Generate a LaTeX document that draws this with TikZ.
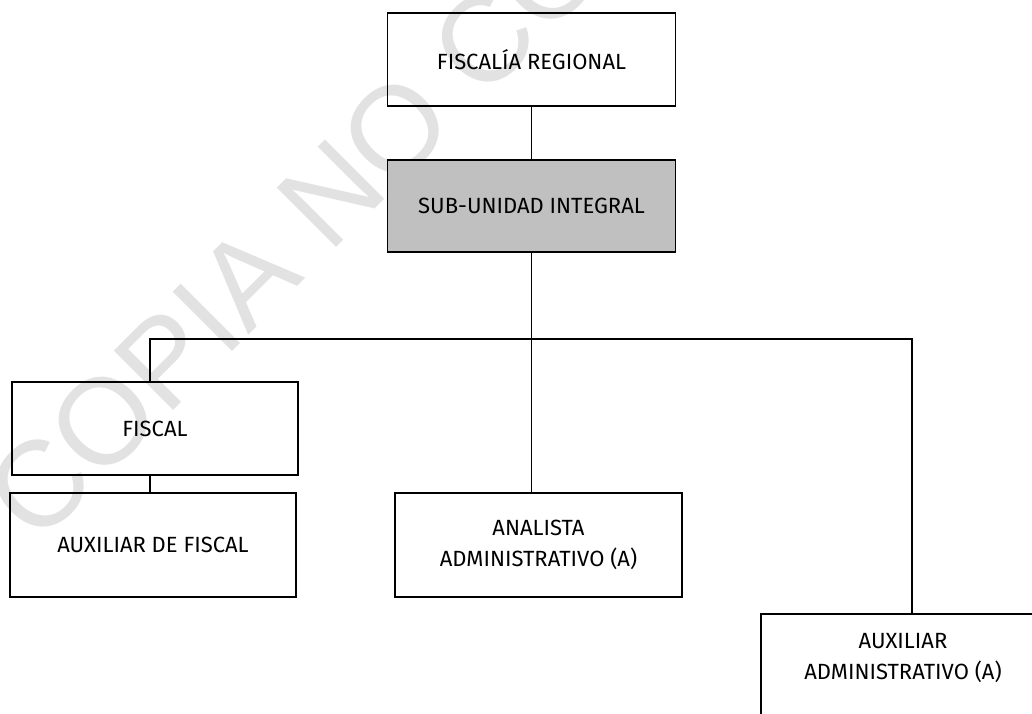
\documentclass[tikz,border=0pt]{standalone}
\usepackage{fontspec}
\setmainfont{Fira Sans}
\newfontfamily\wmfont{Liberation Sans}
\begin{document}
\begin{tikzpicture}[x=1pt,y=-1pt,
  unit/.style={draw=black, line width=1.3pt, inner sep=0pt,
    minimum width=#1, align=center, font=\fontsize{22}{31}\selectfont},
  unit/.default=288,
  link/.style={line width=1.5pt, draw=black}]
\useasboundingbox (0,0) rectangle (1032,713);
\fill[white] (0,0) rectangle (1032,713);

% watermark, behind everything
\node[rotate=45, anchor=base west, inner sep=0pt, text={rgb,255:red,226;green,226;blue,226},
  font=\wmfont\fontsize{122}{122}\selectfont] (wm) at (37,547) {COPIA NO CO};

% organisation units
\node[unit, minimum height=93] (fr) at (531.5,59.5) {FISCALÍA REGIONAL};
\node[unit, minimum height=92, fill={rgb,255:red,192;green,192;blue,192}] (sub) at (531.5,206) {SUB-UNIDAD INTEGRAL};
\node[unit=286, minimum height=93] (fis) at (155,428.5) {FISCAL};
\node[unit=286, minimum height=104] (aux) at (153,545) {AUXILIAR DE FISCAL};
\node[unit=287, minimum height=104] (ana) at (538.5,545) {ANALISTA\\ADMINISTRATIVO (A)};
\node[unit=302, minimum height=140,
  label={[font=\fontsize{22}{31}\selectfont, align=center, xshift=-9pt, yshift=26pt]center:AUXILIAR\\ADMINISTRATIVO (A)}]
  (adm) at (912,684) {};

% reporting lines
\coordinate (bus) at (531.5,339);
\draw[link] (fr.south) -- (sub.north);
\draw[link] (sub.south) -- (sub.south |- ana.north);
\draw[link] ([xshift=-5pt]fis.north) |- (bus) -| (adm.north);
\draw[link] ([xshift=-5pt]fis.south) -- ([xshift=-3pt]aux.north);
\end{tikzpicture}
\end{document}
